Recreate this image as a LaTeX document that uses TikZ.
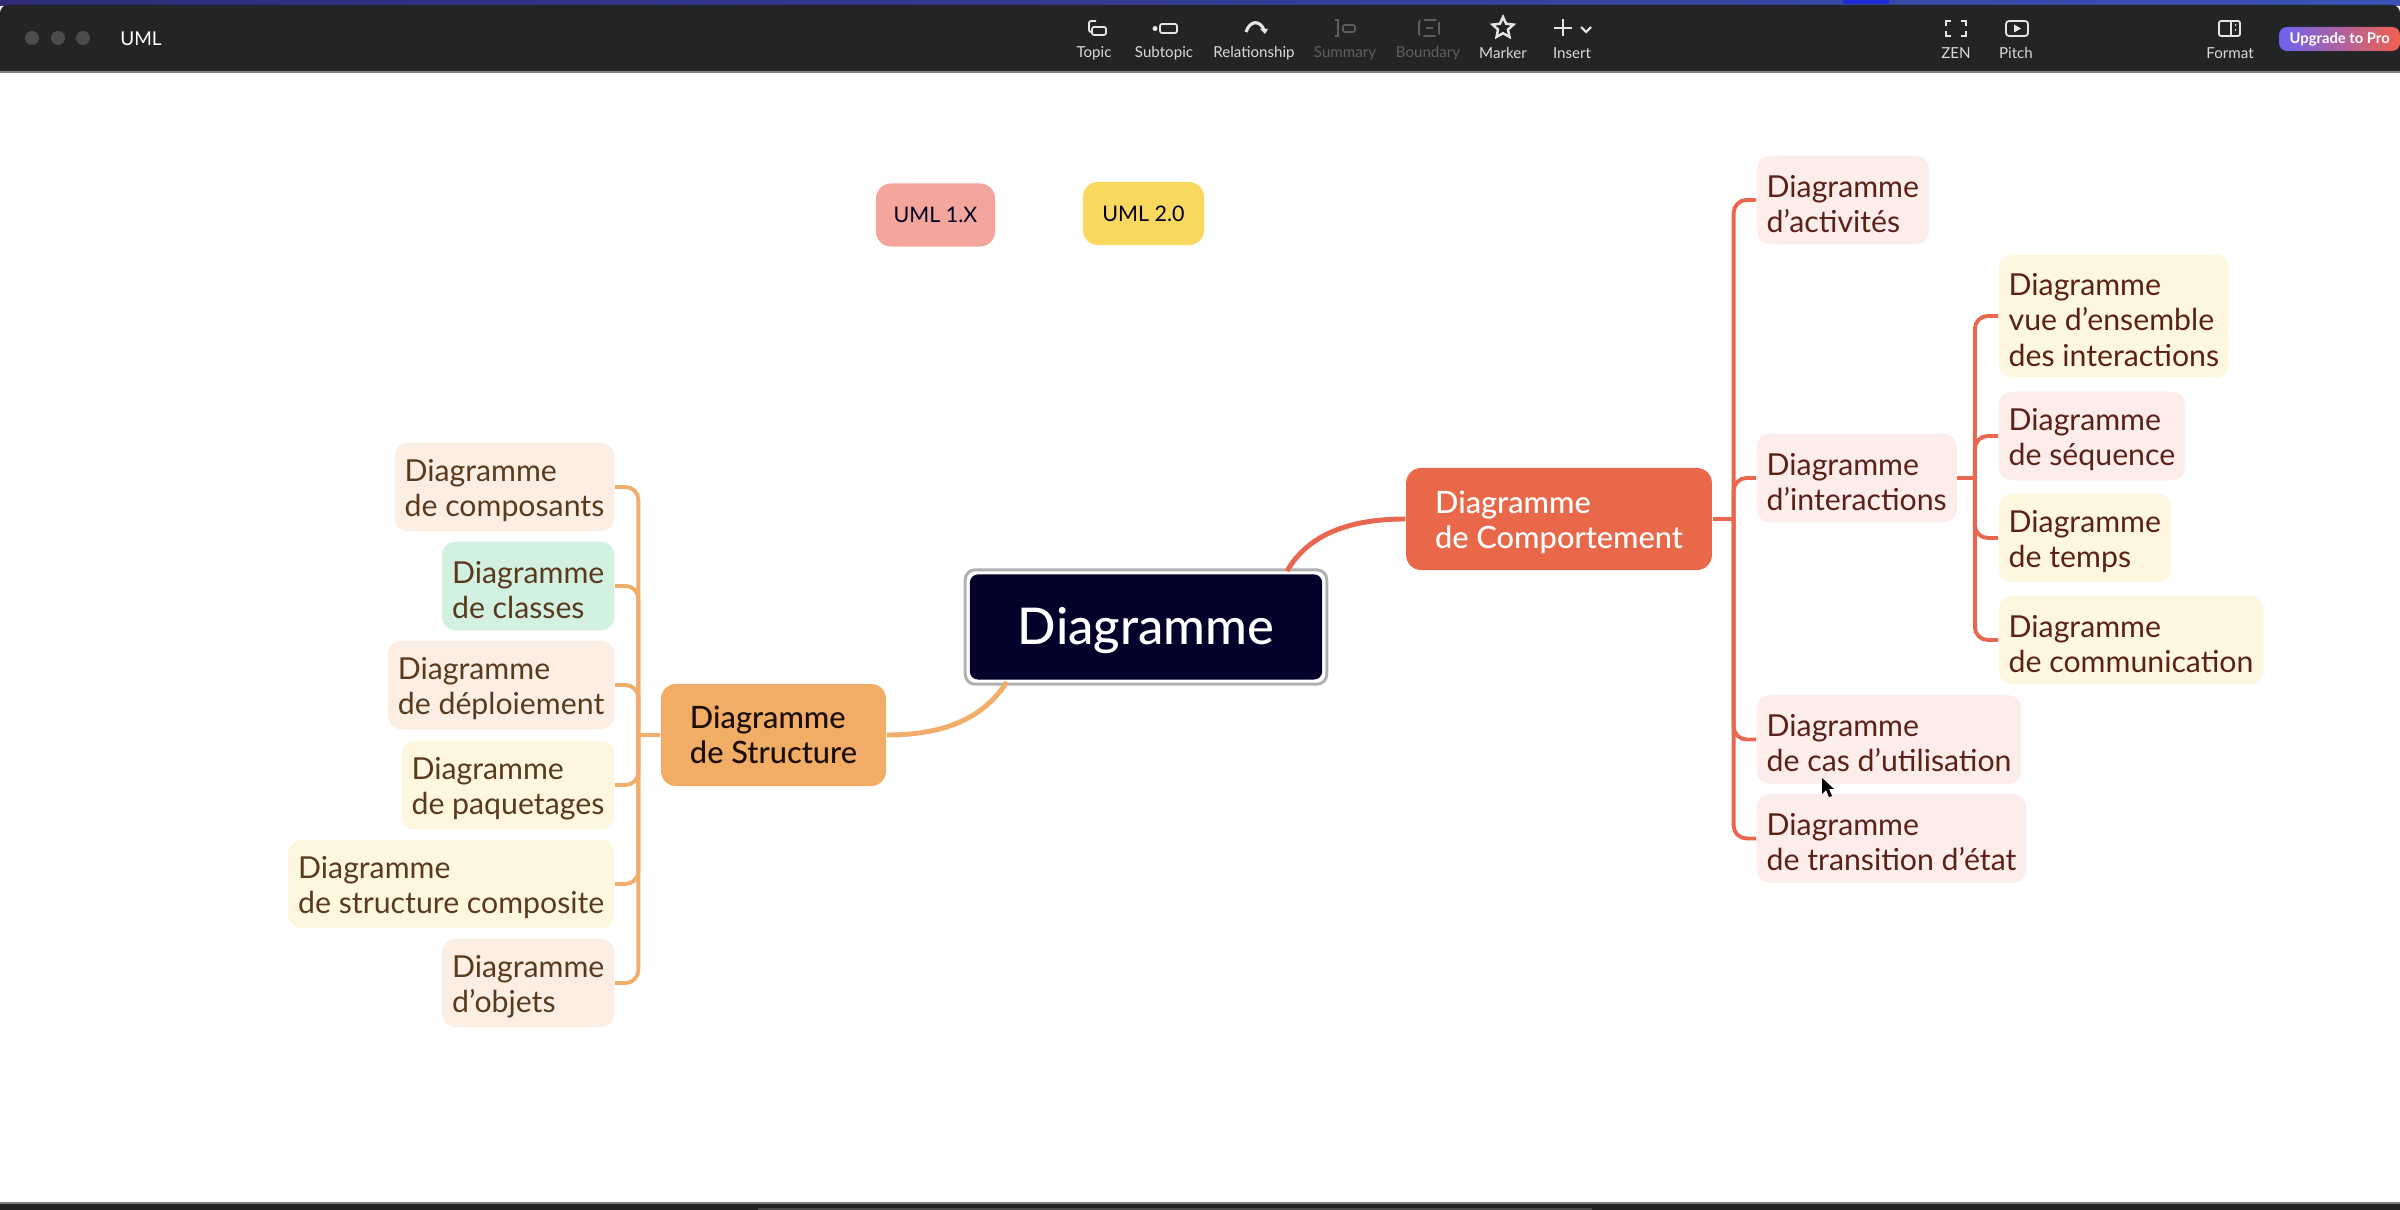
\documentclass[tikz,border=0pt]{standalone}
\usepackage{fontspec}
\setmainfont{Lato}
\newfontfamily\medfont{Lato Medium}
\usetikzlibrary{shapes.geometric}

\definecolor{barcol}{HTML}{232426}
\definecolor{stripL}{HTML}{2E2A78}
\definecolor{stripR}{HTML}{3A50B4}
\definecolor{orangeline}{HTML}{F0AE6A}
\definecolor{redline}{HTML}{E8674E}
\definecolor{orangepale}{HTML}{FCEEE2}
\definecolor{yellowpale}{HTML}{FEF7DF}
\definecolor{greenpale}{HTML}{D3F1E0}
\definecolor{pinkpale}{HTML}{FCECEA}
\definecolor{brownleft}{HTML}{5A3A1E}
\definecolor{brownright}{HTML}{5B2117}
\definecolor{offgray}{HTML}{5E5E60}
\definecolor{upgL}{HTML}{6C63F0}
\definecolor{upgR}{HTML}{F0604E}

\newcommand{\firstline}{\rule{0pt}{0.3cm}}

\tikzset{
  leaf/.style={rectangle, rounded corners=0.13cm, align=left, inner xsep=0.1cm, inner ysep=0pt,
    minimum height=0.885cm, font=\fontsize{8.6}{10}\selectfont},
  leafL/.style={leaf, anchor=east, text=brownleft},
  leafR/.style={leaf, anchor=west, text=brownright},
  main/.style={rectangle, rounded corners=0.15cm, align=left, inner xsep=0.29cm, inner ysep=0pt,
    minimum height=1.02cm, font=\fontsize{8.75}{10}\selectfont\medfont},
  tag/.style={rectangle, rounded corners=0.15cm, minimum height=0.63cm, font=\fontsize{6.1}{8}\selectfont, text=black!85!blue},
  barlabel/.style={font=\fontsize{4.3}{5}\selectfont, text=white!85!black},
  offlabel/.style={font=\fontsize{4.3}{5}\selectfont, text=offgray},
  linkL/.style={draw=orangeline, line width=1.1pt, rounded corners=0.13cm},
  linkR/.style={draw=redline, line width=1.1pt, rounded corners=0.13cm},
  icon/.style={draw=white!90!black, line width=0.5pt},
  officon/.style={draw=offgray, line width=0.5pt},
}

\begin{document}
\begin{tikzpicture}[x=0.01cm, y=-0.01cm]
\useasboundingbox (0,0) rectangle (2400,1210);
\fill[white] (0,0) rectangle (2400,1210);

% top bar
\shade[left color=stripL, right color=stripR] (0,0) rectangle (2400,6);
\fill[blue!45!stripR] (1843,0) rectangle (1889,4);
\fill[barcol, rounded corners=0.08cm] (0,72) -- (0,5) -- (2400,5) -- (2400,72) -- cycle;
\fill[barcol] (0,40) rectangle (2400,72);
\draw[gray, line width=0.4pt] (0,72) -- (2400,72);
\fill[white!30!black] (32,38) circle (7);
\fill[white!30!black] (58,38) circle (7);
\fill[white!30!black] (83,38) circle (7);
\node[font=\fontsize{5.4}{6}\selectfont, text=white] (title) at (141,39){UML};

\node[barlabel] (topic) at (1094,53){Topic};
\node[barlabel] (subtopic) at (1164,53){Subtopic};
\node[barlabel] (relation) at (1254,53){Relationship};
\node[offlabel] (summary) at (1345,53){Summary};
\node[offlabel] (boundary) at (1428,53){Boundary};
\node[barlabel] (marker) at (1503,53){Marker};
\node[barlabel] (insert) at (1572,53){Insert};
\node[barlabel] (zen) at (1956,53){ZEN};
\node[barlabel] (pitch) at (2016,53){Pitch};
\node[barlabel] (format) at (2230,53){Format};

% toolbar icons
\draw[icon, rounded corners=0.02cm] (1092,27) rectangle (1106,35);
\draw[icon, rounded corners=0.02cm] (1096,21) -- (1089,21) -- (1089,32) -- (1092,32);
\draw[icon, rounded corners=0.02cm] (1160,24) rectangle (1177,33);
\fill[white!90!black] (1155,28.5) circle (2.5);
\draw[icon, line width=0.9pt] (1246,32) .. controls (1250,20) and (1260,20) .. (1264,30);
\fill[white!90!black] (1260,29) -- (1268,29) -- (1265,34) -- cycle;
\draw[officon] (1335,20) -- (1338,20) -- (1338,36) -- (1335,36);
\draw[officon, rounded corners=0.02cm] (1343,25) rectangle (1355,32);
\draw[officon, dashed, dash pattern=on 3.5pt off 1pt, rounded corners=0.03cm] (1419,20) rectangle (1439,36);
\draw[officon] (1426,28) -- (1433,28);
\node[star, star points=5, star point ratio=2.1, draw=white!90!black, line width=0.7pt, inner sep=0pt, minimum size=0.22cm] (staricon) at (1503,28){};
\draw[icon, line width=0.8pt] (1554,28) -- (1572,28) (1563,19) -- (1563,36);
\draw[icon, line width=0.6pt] (1581,27) -- (1586,32) -- (1591,27);
\draw[icon, line width=0.7pt] (1946,26) -- (1946,21) -- (1951,21) (1961,21) -- (1966,21) -- (1966,26) (1966,31) -- (1966,36) -- (1961,36) (1951,36) -- (1946,36) -- (1946,31);
\draw[icon, rounded corners=0.03cm] (2006,21) rectangle (2028,36);
\fill[white!90!black] (2014,24.5) -- (2021,28.5) -- (2014,32.5) -- cycle;
\draw[icon, rounded corners=0.02cm] (2219,21) rectangle (2240,36);
\draw[icon] (2231,21) -- (2231,36);
\fill[white!90!black] (2235.5,25) circle (1);
\fill[white!90!black] (2235.5,30) circle (1);

\shade[left color=upgL, right color=upgR, rounded corners=0.08cm] (2400,27) -- (2279,27) -- (2279,51) -- (2400,51) -- cycle;
\node[font=\fontsize{4.2}{5}\selectfont\bfseries, text=white, anchor=west, inner sep=0pt] (upgrade) at (2289,39.5){Upgrade to Pro};

% bottom bar
\fill[barcol] (0,1203) rectangle (2400,1210);
\draw[gray, line width=0.4pt] (0,1203) -- (2400,1203);
\fill[white!30!black] (758,1208) rectangle (1592,1210);

% tags
\node[tag, fill={rgb,255:red,244;green,165;blue,156}, minimum width=1.19cm] (uml1) at (935.5,215){UML 1.X};
\node[tag, fill={rgb,255:red,249;green,216;blue,95}, minimum width=1.21cm] (uml2) at (1143.5,213.5){UML 2.0};

% root
\node[rectangle, rounded corners=0.08cm, fill={rgb,255:red,4;green,1;blue,42}, text=white, minimum width=3.52cm, minimum height=1.05cm,
  font=\fontsize{14.4}{15}\selectfont\medfont] (root) at (1146,627){\raisebox{-0.17cm}[0pt][0pt]{Diagramme}};
\draw[draw={rgb,255:red,176;green,176;blue,178}, line width=0.85pt, rounded corners=0.1cm]
  ([shift={(-4,-4)}]root.north west) rectangle ([shift={(4,4)}]root.south east);

% main branches
\node[main, fill=orangeline!95!orange, text=black!90!orange] (struct) at (773.5,735){Diagramme\\de Structure};
\node[main, fill=redline!95!orange, text=white] (behav) at (1559,519){\firstline Diagramme\\de Comportement};

\coordinate (trunkL) at (638.4,735);
\coordinate (trunkR) at (1733.6,519);
\coordinate (trunkI) at (1974.8,478);
\coordinate (rootB) at (1007,682);
\coordinate (rootT) at (1287,571);

% structure side
\node[leafL, fill=orangepale] (compo) at (615,487){\firstline Diagramme\\de composants};
\node[leafL, fill=greenpale] (classes) at (615,586){\firstline Diagramme\\de classes};
\node[leafL, fill=orangepale] (deploy) at (615,685){\firstline Diagramme\\de déploiement};
\node[leafL, fill=yellowpale] (pack) at (615,785){\firstline Diagramme\\de paquetages};
\node[leafL, fill=yellowpale] (composite) at (615,884){\firstline Diagramme\\de structure composite};
\node[leafL, fill=orangepale] (objects) at (615,983){\firstline Diagramme\\d’objets};

% behaviour side
\node[leafR, fill=pinkpale] (activ) at (1756,200){\firstline Diagramme\\d’activités};
\node[leafR, fill=pinkpale] (inter) at (1756,478){\firstline Diagramme\\d’interactions};
\node[leafR, fill=pinkpale] (usecase) at (1756,739.5){\firstline Diagramme\\de cas d’utilisation};
\node[leafR, fill=pinkpale] (trans) at (1756,838.5){\firstline Diagramme\\de transition d’état};

\node[leafR, fill=yellowpale, minimum height=1.23cm] (overview) at (1998,316){\firstline Diagramme\\vue d’ensemble\\des interactions};
\node[leafR, fill=pinkpale] (seq) at (1998,436){\firstline Diagramme\\de séquence};
\node[leafR, fill=yellowpale] (timing) at (1998,538){\firstline Diagramme\\de temps};
\node[leafR, fill=yellowpale] (comm) at (1998,640){\firstline Diagramme\\de communication};

% connectors
\draw[draw=orangeline, line width=1.4pt] (struct.east) .. controls (950,735) and (985,715) .. (rootB);
\draw[draw=redline, line width=1.4pt] (behav.west) .. controls (1340,519) and (1305,540) .. (rootT);

\draw[linkL] (struct.west) -- (trunkL);
\draw[linkL] (compo.east) -| (trunkL);
\draw[linkL] (classes.east) -| (trunkL);
\draw[linkL] (deploy.east) -| (trunkL);
\draw[linkL] (pack.east) -| (trunkL);
\draw[linkL] (composite.east) -| (trunkL);
\draw[linkL] (objects.east) -| (trunkL);

\draw[linkR] (behav.east) -- (trunkR);
\draw[linkR] (activ.west) -| (trunkR);
\draw[linkR] (inter.west) -| (trunkR);
\draw[linkR] (usecase.west) -| (trunkR);
\draw[linkR] (trans.west) -| (trunkR);

\draw[linkR] (inter.east) -- (trunkI);
\draw[linkR] (overview.west) -| (trunkI);
\draw[linkR] (seq.west) -| (trunkI);
\draw[linkR] (timing.west) -| (trunkI);
\draw[linkR] (comm.west) -| (trunkI);

% mouse pointer
\fill[black] (1822,778) -- (1822,794) -- (1826,790) -- (1829,797) -- (1832,796) -- (1829,789) -- (1834,789) -- cycle;
\end{tikzpicture}
\end{document}
